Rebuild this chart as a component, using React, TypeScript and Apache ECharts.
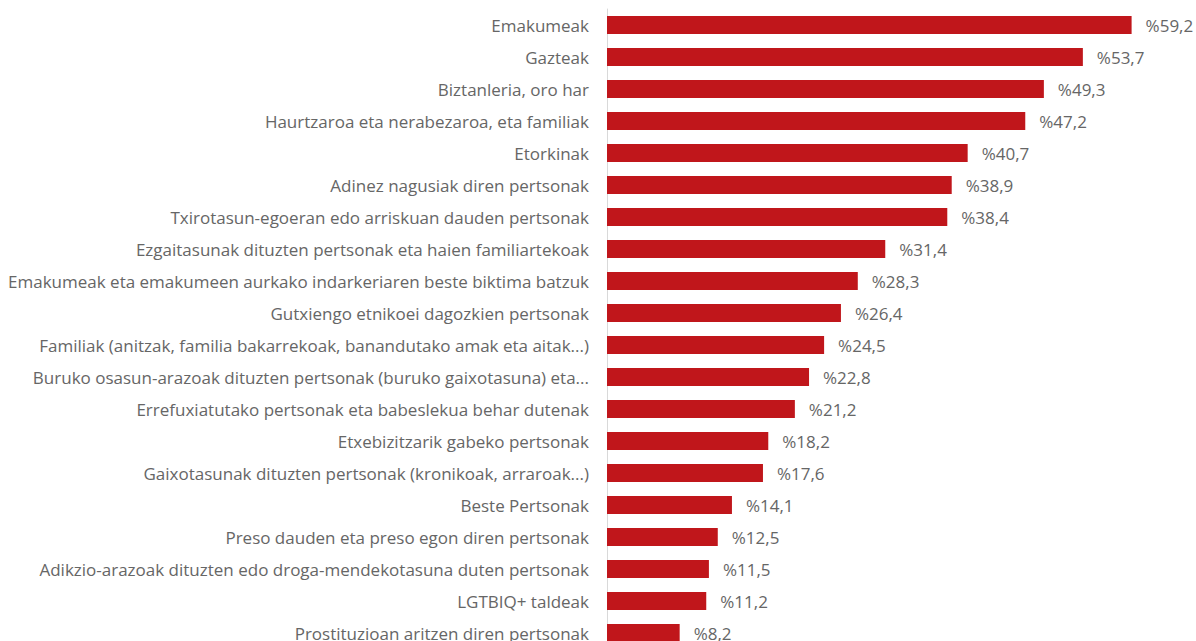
import React, { useEffect, useRef } from "react";
import * as echarts from "echarts";

const categories = [
  "Emakumeak",
  "Gazteak",
  "Biztanleria, oro har",
  "Haurtzaroa eta nerabezaroa, eta familiak",
  "Etorkinak",
  "Adinez nagusiak diren pertsonak",
  "Txirotasun-egoeran edo arriskuan dauden pertsonak",
  "Ezgaitasunak dituzten pertsonak eta haien familiartekoak",
  "Emakumeak eta emakumeen aurkako indarkeriaren beste biktima batzuk",
  "Gutxiengo etnikoei dagozkien pertsonak",
  "Familiak (anitzak, familia bakarrekoak, banandutako amak eta aitak...)",
  "Buruko osasun-arazoak dituzten pertsonak (buruko gaixotasuna) eta...",
  "Errefuxiatutako pertsonak eta babeslekua behar dutenak",
  "Etxebizitzarik gabeko pertsonak",
  "Gaixotasunak dituzten pertsonak (kronikoak, arraroak...)",
  "Beste Pertsonak",
  "Preso dauden eta preso egon diren pertsonak",
  "Adikzio-arazoak dituzten edo droga-mendekotasuna duten pertsonak",
  "LGTBIQ+ taldeak",
  "Prostituzioan aritzen diren pertsonak",
];

const values = [59.2, 53.7, 49.3, 47.2, 40.7, 38.9, 38.4, 31.4, 28.3, 26.4, 24.5, 22.8, 21.2, 18.2, 17.6, 14.1, 12.5, 11.5, 11.2, 8.2];

export default function App() {
  const ref = useRef<HTMLDivElement>(null);
  useEffect(() => {
    if (!ref.current) return;
    const chart = echarts.init(ref.current, null, { renderer: "svg" });
    chart.setOption({
      animation: false,
      grid: { left: 607, top: 9, height: 640, width: 576, outerBoundsMode: "none" },
      xAxis: {
        type: "value",
        min: 0,
        max: 65,
        show: false,
      },
      yAxis: {
        type: "category",
        data: categories,
        inverse: true,
        axisLine: { show: true, lineStyle: { color: "#d9d9d9", width: 1 } },
        axisTick: { show: false },
        axisLabel: {
          margin: 18,
          color: "#666666",
          fontSize: 17,
          fontFamily: "Open Sans",
        },
      },
      series: [
        {
          type: "bar",
          data: values,
          barWidth: 18,
          itemStyle: { color: "#C0161B" },
          label: {
            show: true,
            position: "right",
            distance: 14,
            color: "#666666",
            fontSize: 17,
            fontFamily: "Open Sans",
            formatter: (p: any) => "%" + String(p.value).replace(".", ","),
          },
        },
      ],
    });
    return () => chart.dispose();
  }, []);
  return (
    <div
      ref={ref}
      style={{ position: "fixed", left: 0, top: 0, width: 1196, height: 660, background: "#fff" }}
    />
  );
}
